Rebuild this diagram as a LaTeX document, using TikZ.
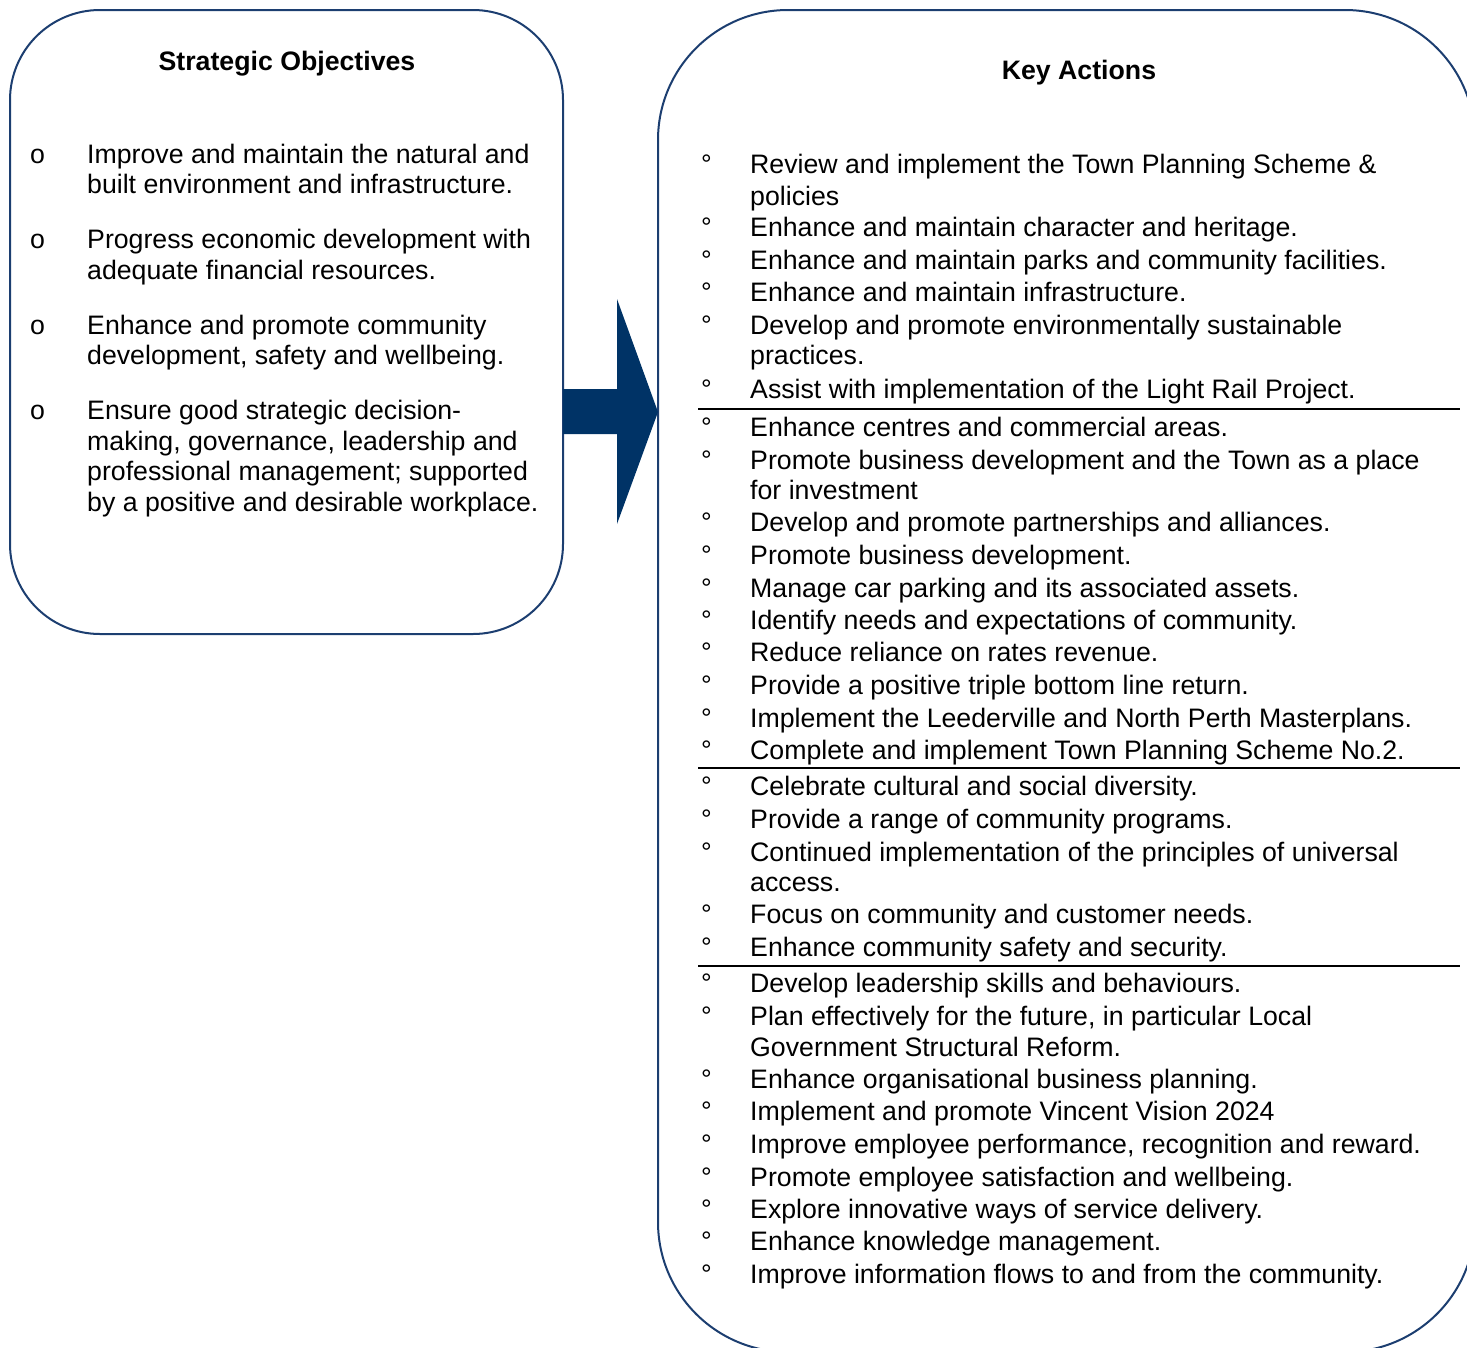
\documentclass[tikz,border=0pt]{standalone}
\usepackage{fontspec}
\setmainfont{Liberation Sans}
\definecolor{boxline}{RGB}{28,62,112}
\definecolor{arrowfill}{RGB}{0,51,102}
\begin{document}
\begin{tikzpicture}[x=1pt,y=-1pt,
  txt/.style={anchor=base west,inner sep=0pt,font=\fontsize{26.7}{30}\selectfont},
  ttl/.style={anchor=base,inner sep=0pt,font=\fontsize{26.7}{30}\selectfont\bfseries},
  blt/.style={anchor=base west,inner sep=0pt,font=\fontsize{26.7}{30}\selectfont},
  boxstyle/.style={draw=boxline,line width=2pt},
  sep/.style={draw=black,line width=2pt}]
\useasboundingbox (0,0) rectangle (1467,1347);
\clip (0,0) rectangle (1467,1347);
% boxes
\draw[boxstyle,rounded corners=90pt] (10,10) rectangle (563,634);
\draw[boxstyle,rounded corners=130pt] (658,10) rectangle (1475,1352);
% arrow
\fill[arrowfill] (563,389) -- (617,389) -- (617,299) -- (658,412) -- (617,524) -- (617,434) -- (563,434) -- cycle;
% titles
\node[ttl] (so) at (287,70) {Strategic Objectives};
\node[ttl] (ka) at (1079,79) {Key Actions};
% left bullets
\foreach \y [count=\i] in {163,248,334,419}
  \node[blt] (lb\i) at (30,\y) {o};
\foreach \y/\t [count=\i] in {
163/{Improve and maintain the natural and},
193/{built environment and infrastructure.},
248/{Progress economic development with},
279/{adequate financial resources.},
334/{Enhance and promote community},
364/{development, safety and wellbeing.},
419/{Ensure good strategic decision-},
450/{making, governance, leadership and},
480/{professional management; supported},
511/{by a positive and desirable workplace.}}
  \node[txt] (lt\i) at (87,\y) {\t};
% right bullets
\foreach \y [count=\i] in {173,236,269,301,334,398,436,469,531,564,597,629,661,694,727,759,795,828,861,923,956,992,1025,1088,1120,1153,1186,1218,1250,1283}
  \node[blt] (rb\i) at (701,\y) {°};
\foreach \y/\t [count=\i] in {
173/{Review and implement the Town Planning Scheme \&},
205/{policies},
236/{Enhance and maintain character and heritage.},
269/{Enhance and maintain parks and community facilities.},
301/{Enhance and maintain infrastructure.},
334/{Develop and promote environmentally sustainable},
364/{practices.},
398/{Assist with implementation of the Light Rail Project.},
436/{Enhance centres and commercial areas.},
469/{Promote business development and the Town as a place},
499/{for investment},
531/{Develop and promote partnerships and alliances.},
564/{Promote business development.},
597/{Manage car parking and its associated assets.},
629/{Identify needs and expectations of community.},
661/{Reduce reliance on rates revenue.},
694/{Provide a positive triple bottom line return.},
727/{Implement the Leederville and North Perth Masterplans.},
759/{Complete and implement Town Planning Scheme No.2.},
795/{Celebrate cultural and social diversity.},
828/{Provide a range of community programs.},
861/{Continued implementation of the principles of universal},
891/{access.},
923/{Focus on community and customer needs.},
956/{Enhance community safety and security.},
992/{Develop leadership skills and behaviours.},
1025/{Plan effectively for the future, in particular Local},
1056/{Government Structural Reform.},
1088/{Enhance organisational business planning.},
1120/{Implement and promote Vincent Vision 2024},
1153/{Improve employee performance, recognition and reward.},
1186/{Promote employee satisfaction and wellbeing.},
1218/{Explore innovative ways of service delivery.},
1250/{Enhance knowledge management.},
1283/{Improve information flows to and from the community.}}
  \node[txt] (rt\i) at (750,\y) {\t};
% separators
\coordinate (s1a) at (698,409); \coordinate (s1b) at (1460,409);
\coordinate (s2a) at (698,768); \coordinate (s2b) at (1460,768);
\coordinate (s3a) at (698,966); \coordinate (s3b) at (1460,966);
\draw[sep] (s1a) -- (s1b);
\draw[sep] (s2a) -- (s2b);
\draw[sep] (s3a) -- (s3b);
\end{tikzpicture}
\end{document}
